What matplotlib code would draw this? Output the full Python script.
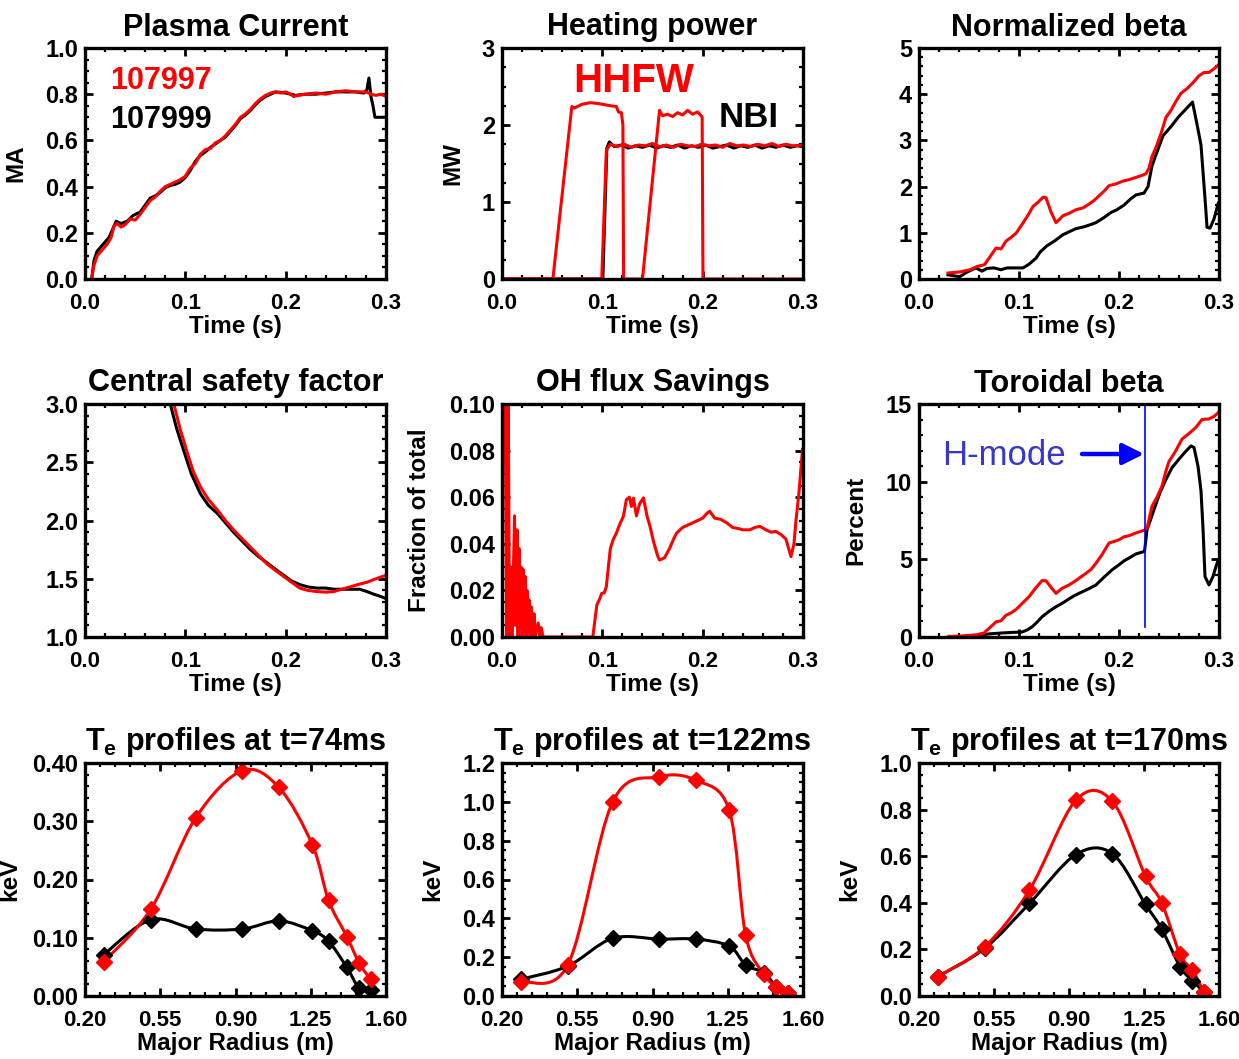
import numpy as np
import matplotlib
matplotlib.use('Agg')
import matplotlib.pyplot as plt
from matplotlib.path import Path
from matplotlib.patches import PathPatch
from matplotlib.ticker import MultipleLocator, FixedLocator, AutoMinorLocator, FormatStrFormatter

plt.rcParams['font.family'] = ['Liberation Sans', 'DejaVu Sans']
plt.rcParams['font.weight'] = 'bold'
plt.rcParams['axes.titleweight'] = 'bold'
plt.rcParams['axes.labelweight'] = 'bold'
plt.rcParams['mathtext.fontset'] = 'custom'
plt.rcParams['mathtext.rm'] = 'Liberation Sans:bold'
plt.rcParams['mathtext.it'] = 'Liberation Sans:bold'
plt.rcParams['mathtext.bf'] = 'Liberation Sans:bold'

RED = '#ff0000'
BLACK = '#000000'

# ---- shots ----
shot_rf = '107997'
shot_ref = '107999'

# ---- plasma current (MA) ----
ip_t_rf = [0.0066, 0.009, 0.012, 0.018, 0.022, 0.026, 0.029, 0.032, 0.036, 0.040, 0.045, 0.050,
           0.055, 0.060, 0.065, 0.070, 0.075, 0.080, 0.085, 0.090, 0.095, 0.100, 0.105, 0.110,
           0.115, 0.120, 0.125, 0.130, 0.135, 0.140, 0.145, 0.150, 0.155, 0.160, 0.165, 0.170,
           0.175, 0.180, 0.185, 0.190, 0.195, 0.200, 0.205, 0.208, 0.212, 0.220, 0.230, 0.240,
           0.250, 0.260, 0.270, 0.280, 0.285, 0.290, 0.295, 0.300]
ip_rf = [0.0, 0.06, 0.10, 0.13, 0.15, 0.18, 0.23, 0.24, 0.225, 0.235, 0.26, 0.255,
         0.28, 0.31, 0.34, 0.355, 0.38, 0.40, 0.41, 0.42, 0.43, 0.445, 0.48, 0.50,
         0.54, 0.56, 0.565, 0.59, 0.60, 0.62, 0.645, 0.67, 0.70, 0.715, 0.735, 0.76,
         0.78, 0.795, 0.805, 0.81, 0.805, 0.81, 0.80, 0.79, 0.795, 0.80, 0.805, 0.80,
         0.81, 0.815, 0.81, 0.81, 0.80, 0.795, 0.80, 0.79]
ip_t_ref = [0.0066, 0.009, 0.012, 0.018, 0.024, 0.028, 0.031, 0.036, 0.042, 0.048, 0.055, 0.060,
            0.065, 0.070, 0.075, 0.080, 0.085, 0.090, 0.095, 0.100, 0.105, 0.110, 0.115, 0.120,
            0.125, 0.130, 0.135, 0.140, 0.145, 0.150, 0.155, 0.160, 0.165, 0.170, 0.175, 0.180,
            0.185, 0.190, 0.200, 0.210, 0.220, 0.230, 0.240, 0.250, 0.260, 0.270, 0.278, 0.281,
            0.283, 0.285, 0.287, 0.289, 0.295, 0.300]
ip_ref = [0.0, 0.08, 0.12, 0.15, 0.18, 0.22, 0.25, 0.24, 0.25, 0.275, 0.29, 0.32,
          0.35, 0.36, 0.375, 0.395, 0.405, 0.41, 0.42, 0.44, 0.47, 0.51, 0.535, 0.55,
          0.57, 0.585, 0.60, 0.615, 0.64, 0.665, 0.695, 0.71, 0.73, 0.755, 0.775, 0.79,
          0.80, 0.81, 0.805, 0.795, 0.80, 0.80, 0.805, 0.81, 0.81, 0.81, 0.805, 0.82,
          0.87, 0.79, 0.75, 0.70, 0.70, 0.70]

# ---- heating power (MW) ----
hhfw_t = [0.0, 0.0507, 0.0696, 0.072, 0.080, 0.088, 0.095, 0.100, 0.108, 0.114, 0.116, 0.119,
          0.1205, 0.1212, 0.1400, 0.157, 0.160, 0.165, 0.170, 0.175, 0.180, 0.185, 0.190,
          0.195, 0.1985, 0.1995, 0.2003, 0.300]
hhfw_p = [0.0, 0.0, 2.24, 2.22, 2.27, 2.29, 2.28, 2.27, 2.25, 2.24, 2.17, 2.16,
          2.0, 0.0, 0.0, 2.19, 2.12, 2.14, 2.11, 2.16, 2.13, 2.19, 2.14,
          2.17, 2.12, 2.10, 0.0, 0.0]
nbi_t_rf = [0.0, 0.0994, 0.104, 0.108, 0.115, 0.122, 0.129, 0.136, 0.143, 0.150, 0.157, 0.164,
            0.171, 0.178, 0.185, 0.192, 0.199, 0.206, 0.213, 0.220, 0.227, 0.234, 0.241, 0.248,
            0.255, 0.262, 0.269, 0.276, 0.283, 0.290, 0.300]
nbi_rf = [0.0, 0.0, 1.67, 1.75, 1.72, 1.75, 1.71, 1.74, 1.73, 1.76, 1.72, 1.74,
          1.71, 1.75, 1.73, 1.72, 1.75, 1.73, 1.74, 1.71, 1.76, 1.73, 1.74, 1.72,
          1.75, 1.73, 1.76, 1.72, 1.75, 1.73, 1.74]
nbi_t_ref = [0.0, 0.1005, 0.1045, 0.107, 0.112, 0.119, 0.126, 0.133, 0.140, 0.147, 0.154, 0.161,
             0.168, 0.175, 0.182, 0.189, 0.196, 0.203, 0.210, 0.217, 0.224, 0.231, 0.238,
             0.245, 0.252, 0.259, 0.266, 0.273, 0.280, 0.287, 0.294, 0.300]
nbi_ref = [0.0, 0.0, 1.70, 1.78, 1.72, 1.74, 1.70, 1.73, 1.71, 1.74, 1.70, 1.73,
           1.71, 1.74, 1.70, 1.73, 1.71, 1.74, 1.70, 1.72, 1.74, 1.70, 1.73,
           1.71, 1.74, 1.70, 1.73, 1.71, 1.74, 1.71, 1.73, 1.72]

# ---- normalized beta ----
bn_t_rf = [0.029, 0.040, 0.051, 0.058, 0.0655, 0.070, 0.077, 0.082, 0.087, 0.092, 0.097, 0.103,
           0.109, 0.114, 0.119, 0.124, 0.127, 0.132, 0.137, 0.140, 0.144, 0.150, 0.157, 0.164,
           0.170, 0.175, 0.180, 0.185, 0.190, 0.197, 0.204, 0.210, 0.217, 0.224, 0.227, 0.230,
           0.233, 0.237, 0.242, 0.247, 0.252, 0.257, 0.262, 0.268, 0.274, 0.280, 0.285, 0.290,
           0.295, 0.2993]
bn_rf = [0.13, 0.15, 0.20, 0.27, 0.31, 0.45, 0.67, 0.65, 0.82, 0.90, 0.99, 1.18,
         1.38, 1.57, 1.66, 1.77, 1.76, 1.45, 1.22, 1.28, 1.37, 1.42, 1.50, 1.54,
         1.62, 1.70, 1.80, 1.90, 2.02, 2.06, 2.12, 2.15, 2.20, 2.25, 2.28, 2.40,
         2.65, 2.85, 3.15, 3.50, 3.65, 3.85, 4.02, 4.12, 4.25, 4.40, 4.47, 4.47,
         4.55, 4.63]
bn_t_ref = [0.029, 0.0406, 0.048, 0.057, 0.063, 0.068, 0.075, 0.082, 0.088, 0.095, 0.104, 0.110,
            0.117, 0.121, 0.128, 0.136, 0.144, 0.150, 0.157, 0.165, 0.172, 0.177, 0.185, 0.192,
            0.198, 0.205, 0.212, 0.217, 0.225, 0.229, 0.233, 0.238, 0.244, 0.252, 0.260, 0.267,
            0.2735, 0.278, 0.282, 0.2865, 0.288, 0.291, 0.295, 0.2993]
bn_ref = [0.09, 0.05, 0.15, 0.24, 0.17, 0.23, 0.24, 0.20, 0.24, 0.24, 0.24, 0.32,
          0.45, 0.58, 0.72, 0.83, 0.96, 1.02, 1.09, 1.13, 1.18, 1.22, 1.33, 1.44,
          1.50, 1.60, 1.74, 1.82, 1.86, 2.00, 2.45, 2.75, 3.10, 3.30, 3.52, 3.68,
          3.83, 3.35, 2.90, 1.60, 1.12, 1.10, 1.30, 1.64]

# ---- central safety factor ----
q0_t_rf = [0.086, 0.0885, 0.095, 0.102, 0.108, 0.115, 0.123, 0.132, 0.140, 0.148, 0.157, 0.165,
           0.173, 0.181, 0.190, 0.198, 0.206, 0.214, 0.222, 0.231, 0.240, 0.248, 0.256, 0.264,
           0.272, 0.281, 0.290, 0.300]
q0_rf = [3.10, 3.00, 2.78, 2.58, 2.42, 2.29, 2.18, 2.09, 2.00, 1.92, 1.84, 1.77,
         1.70, 1.63, 1.57, 1.52, 1.47, 1.42, 1.40, 1.39, 1.385, 1.39, 1.41, 1.43,
         1.45, 1.47, 1.50, 1.53]
q0_t_ref = [0.082, 0.085, 0.091, 0.098, 0.106, 0.115, 0.123, 0.132, 0.140, 0.148, 0.157, 0.165,
            0.173, 0.181, 0.190, 0.198, 0.206, 0.214, 0.222, 0.231, 0.240, 0.248, 0.256, 0.264,
            0.274, 0.281, 0.287, 0.294, 0.300]
q0_ref = [3.10, 3.00, 2.80, 2.61, 2.40, 2.23, 2.13, 2.06, 1.98, 1.90, 1.82, 1.75,
          1.69, 1.64, 1.58, 1.53, 1.48, 1.45, 1.43, 1.42, 1.42, 1.41, 1.41, 1.41,
          1.41, 1.39, 1.37, 1.35, 1.33]

# ---- OH flux savings (fraction of total) ----
oh_t = [0.0, 0.001, 0.003, 0.0045, 0.006, 0.0075, 0.009, 0.010, 0.0125, 0.0135, 0.015, 0.016,
        0.017, 0.018, 0.019, 0.020, 0.021, 0.022, 0.023, 0.024, 0.025, 0.026, 0.027, 0.028,
        0.029, 0.030, 0.032, 0.033, 0.036, 0.038, 0.039, 0.041, 0.0905, 0.0945, 0.097, 0.0994,
        0.102, 0.104, 0.106, 0.108, 0.111, 0.114, 0.117, 0.121, 0.124, 0.127, 0.129, 0.131,
        0.134, 0.137, 0.141, 0.1445, 0.1475, 0.151, 0.155, 0.157, 0.162, 0.167, 0.171, 0.174,
        0.180, 0.185, 0.190, 0.195, 0.200, 0.204, 0.207, 0.212, 0.218, 0.224, 0.230, 0.236,
        0.240, 0.247, 0.252, 0.257, 0.263, 0.268, 0.273, 0.278, 0.283, 0.288, 0.291, 0.293,
        0.296, 0.2995]
oh_frac = [0.037, 0.12, 0.12, 0.0, 0.12, 0.0, 0.03, 0.0, 0.052, 0.005, 0.046, 0.0,
           0.038, 0.004, 0.03, 0.0, 0.029, 0.002, 0.026, 0.0, 0.02, 0.002, 0.016, 0.0,
           0.013, 0.0, 0.01, 0.0, 0.006, 0.0, 0.004, 0.0, 0.0, 0.0137, 0.016, 0.0187,
           0.019, 0.0216, 0.030, 0.038, 0.042, 0.0446, 0.048, 0.0518, 0.059, 0.060, 0.056, 0.0596,
           0.052, 0.057, 0.0597, 0.052, 0.0475, 0.041, 0.035, 0.033, 0.034, 0.038, 0.042, 0.0446,
           0.047, 0.048, 0.049, 0.050, 0.051, 0.053, 0.054, 0.051, 0.0505, 0.049, 0.047, 0.0465,
           0.046, 0.046, 0.047, 0.0475, 0.046, 0.045, 0.0453, 0.044, 0.042, 0.0345, 0.040, 0.050,
           0.062, 0.0806]

# ---- toroidal beta (%) ----
bt_t_rf = [0.030, 0.040, 0.050, 0.058, 0.065, 0.070, 0.077, 0.082, 0.087, 0.092, 0.097, 0.103,
           0.110, 0.116, 0.123, 0.127, 0.132, 0.137, 0.143, 0.150, 0.155, 0.160, 0.167, 0.172,
           0.177, 0.183, 0.190, 0.195, 0.200, 0.205, 0.210, 0.217, 0.225, 0.228, 0.233, 0.238,
           0.243, 0.247, 0.250, 0.256, 0.263, 0.270, 0.277, 0.283, 0.290, 0.295, 0.2993]
bt_rf = [0.04, 0.06, 0.10, 0.15, 0.26, 0.55, 0.97, 1.05, 1.40, 1.55, 1.77, 2.15,
         2.59, 3.10, 3.63, 3.62, 3.20, 2.81, 3.13, 3.35, 3.55, 3.78, 4.10, 4.35,
         4.75, 5.30, 6.05, 6.15, 6.26, 6.45, 6.52, 6.70, 6.87, 7.00, 8.42, 9.00,
         9.72, 10.7, 11.3, 11.9, 12.74, 13.1, 13.5, 14.0, 14.04, 14.2, 14.45]
bt_t_ref = [0.030, 0.050, 0.060, 0.070, 0.083, 0.095, 0.103, 0.108, 0.113, 0.118, 0.123, 0.130,
            0.137, 0.143, 0.150, 0.155, 0.160, 0.168, 0.177, 0.185, 0.193, 0.200, 0.205, 0.210,
            0.217, 0.2255, 0.228, 0.235, 0.241, 0.247, 0.253, 0.260, 0.266, 0.272, 0.275, 0.279,
            0.282, 0.284, 0.286, 0.290, 0.294, 0.297, 0.2993]
bt_ref = [0.0, 0.02, 0.10, 0.20, 0.26, 0.30, 0.32, 0.45, 0.65, 0.95, 1.30, 1.65,
          1.95, 2.16, 2.45, 2.65, 2.81, 3.05, 3.35, 3.85, 4.32, 4.65, 4.90, 5.08,
          5.35, 5.51, 6.90, 8.20, 9.30, 10.15, 10.9, 11.45, 11.9, 12.3, 12.2, 11.0,
          9.4, 7.0, 3.89, 3.35, 3.90, 4.54, 4.97]
hmode_t = 0.226

# ---- Te profiles (keV) vs major radius (m) ----
radius = [0.287, 0.506, 0.715, 0.932, 1.102, 1.257, 1.333, 1.418, 1.476, 1.528]
te_74_rf = [0.059, 0.149, 0.306, 0.387, 0.358, 0.260, 0.164, 0.102, 0.056, 0.029]
te_74_ref = [0.071, 0.131, 0.115, 0.115, 0.129, 0.112, 0.094, 0.049, 0.013, 0.010]
te_122_rf = [0.074, 0.160, 1.000, 1.129, 1.111, 0.957, 0.314, 0.113, 0.048, 0.017]
te_122_ref = [0.086, 0.154, 0.297, 0.293, 0.293, 0.257, 0.160, 0.120, 0.048, 0.014]
te_170_rf = [0.083, 0.211, 0.454, 0.840, 0.836, 0.514, 0.400, 0.179, 0.111, 0.019]
te_170_ref = [0.083, 0.204, 0.397, 0.607, 0.611, 0.393, 0.287, 0.126, 0.066, 0.019]
radius_ticks = [0.20, 0.55, 0.90, 1.25, 1.60]

W, H = 1239, 1059
fig = plt.figure(figsize=(W / 100, H / 100), dpi=100)


def make_axes(x0, y0, x1, y1):
    # pixel box -> figure fraction
    return fig.add_axes([x0 / W, 1 - y1 / H, (x1 - x0) / W, (y1 - y0) / H])


def style(ax, title, xlim, ylim, xmaj, ymaj, ymin, xfmt, yfmt, xlabel, ylabel=None, ylab_x=-0.2):
    ax.set_xlim(*xlim)
    ax.set_ylim(*ylim)
    if isinstance(xmaj, list):
        ax.xaxis.set_major_locator(FixedLocator(xmaj))
    else:
        ax.xaxis.set_major_locator(MultipleLocator(xmaj))
    ax.xaxis.set_minor_locator(AutoMinorLocator(5))
    ax.yaxis.set_major_locator(MultipleLocator(ymaj))
    ax.yaxis.set_minor_locator(MultipleLocator(ymin))
    ax.xaxis.set_major_formatter(FormatStrFormatter(xfmt))
    ax.yaxis.set_major_formatter(FormatStrFormatter(yfmt))
    ax.tick_params(which='both', direction='in', top=True, right=True)
    ax.tick_params(which='major', length=6, width=2)
    ax.tick_params(which='minor', length=3, width=1.6)
    ax.tick_params(axis='x', labelsize=16, pad=10)
    ax.tick_params(axis='y', labelsize=17, pad=5)
    for s in ax.spines.values():
        s.set_linewidth(2.4)
    ax.set_title(title, fontsize=22, pad=9)
    ax.set_xlabel(xlabel, fontsize=17.5, labelpad=1)
    if ylabel:
        ax.set_ylabel(ylabel, fontsize=17.5)
        ax.yaxis.set_label_coords(ylab_x, 0.5)


def smooth_line(ax, x, y, color, lw=2.2):
    # Catmull-Rom spline through the points, drawn as cubic Bezier segments
    pts = np.column_stack([x, y])
    ext = np.vstack([pts[0], pts, pts[-1]])
    verts = [pts[0]]
    codes = [Path.MOVETO]
    for i in range(len(pts) - 1):
        p0, p1, p2, p3 = ext[i], ext[i + 1], ext[i + 2], ext[i + 3]
        verts += [p1 + (p2 - p0) / 6, p2 - (p3 - p1) / 6, p2]
        codes += [Path.CURVE4] * 3
    ax.add_patch(PathPatch(Path(verts, codes), facecolor='none', edgecolor=color, lw=lw))


cols = [(85, 386), (502, 803), (919, 1219)]
rows = [(48, 279), (404, 637), (763, 996)]
tlab = 'Time (s)'

# Plasma current
ax = make_axes(cols[0][0], rows[0][0], cols[0][1], rows[0][1])
ax.plot(ip_t_ref, ip_ref, color=BLACK, lw=2.2)
ax.plot(ip_t_rf, ip_rf, color=RED, lw=2.2)
style(ax, 'Plasma Current', (0, 0.3), (0, 1.0), 0.1, 0.2, 0.05, '%.1f', '%.1f', tlab, 'MA', -0.19)
ax.text(0.083, 0.857, shot_rf, color=RED, fontsize=22, transform=ax.transAxes, va='center')
ax.text(0.083, 0.688, shot_ref, color=BLACK, fontsize=22, transform=ax.transAxes, va='center')

# Heating power
ax = make_axes(cols[1][0], rows[0][0], cols[1][1], rows[0][1])
ax.plot(nbi_t_ref, nbi_ref, color=BLACK, lw=2.2)
ax.plot(nbi_t_rf, nbi_rf, color=RED, lw=2.2)
ax.plot(hhfw_t, hhfw_p, color=RED, lw=2.2)
style(ax, 'Heating power', (0, 0.3), (0, 3), 0.1, 1, 0.25, '%.1f', '%d', tlab, 'MW', -0.125)
ax.text(0.236, 0.857, 'HHFW', color=RED, fontsize=29, transform=ax.transAxes, va='center')
ax.text(0.721, 0.70, 'NBI', color=BLACK, fontsize=25, transform=ax.transAxes, va='center')

# Normalized beta
ax = make_axes(cols[2][0], rows[0][0], cols[2][1], rows[0][1])
ax.plot(bn_t_ref, bn_ref, color=BLACK, lw=2.2)
ax.plot(bn_t_rf, bn_rf, color=RED, lw=2.2)
style(ax, 'Normalized beta', (0, 0.3), (0, 5), 0.1, 1, 0.2, '%.1f', '%d', tlab)

# Central safety factor
ax = make_axes(cols[0][0], rows[1][0], cols[0][1], rows[1][1])
ax.plot(q0_t_ref, q0_ref, color=BLACK, lw=2.2)
ax.plot(q0_t_rf, q0_rf, color=RED, lw=2.2)
style(ax, 'Central safety factor', (0, 0.3), (1.0, 3.0), 0.1, 0.5, 0.1, '%.1f', '%.1f', tlab)

# OH flux savings
ax = make_axes(cols[1][0], rows[1][0], cols[1][1], rows[1][1])
ax.plot(oh_t, oh_frac, color=RED, lw=2.2)
style(ax, 'OH flux Savings', (0, 0.3), (0, 0.10), 0.1, 0.02, 0.005, '%.1f', '%.2f', tlab,
      'Fraction of total', -0.235)

# Toroidal beta
ax = make_axes(cols[2][0], rows[1][0], cols[2][1], rows[1][1])
ax.plot(bt_t_ref, bt_ref, color=BLACK, lw=2.2)
ax.plot(bt_t_rf, bt_rf, color=RED, lw=2.2)
ax.plot([hmode_t, hmode_t], [0.65, 15], color='#0000ff', lw=1.2)
ax.annotate('', xy=(hmode_t - 0.001, 11.78), xytext=(0.163, 11.78),
            arrowprops=dict(arrowstyle='-|>', color='#0000ff', lw=3.2, mutation_scale=32,
                            shrinkA=0, shrinkB=0))
ax.text(0.023, 11.7, 'H-mode', color='#3737cc', fontsize=25, fontweight='normal', va='center')
style(ax, 'Toroidal beta', (0, 0.3), (0, 15), 0.1, 5, 1, '%.1f', '%d', tlab, 'Percent', -0.173)

# Te profiles
profiles = [('74', te_74_rf, te_74_ref, 0.40, 0.10, 0.02, '%.2f', -0.212),
            ('122', te_122_rf, te_122_ref, 1.2, 0.2, 0.05, '%.1f', -0.193),
            ('170', te_170_rf, te_170_ref, 1.0, 0.2, 0.05, '%.1f', -0.193)]
for (x0, x1), (ms, rf, ref, ytop, ymaj, ymin, yfmt, ylx) in zip(cols, profiles):
    ax = make_axes(x0, rows[2][0], x1, rows[2][1])
    smooth_line(ax, radius, ref, BLACK)
    ax.plot(radius, ref, 'D', color=BLACK, ms=8.5)
    smooth_line(ax, radius, rf, RED)
    ax.plot(radius, rf, 'D', color=RED, ms=8.5)
    style(ax, r'T$_{\rm e}$ profiles at t=' + ms + 'ms', (0.2, 1.6), (0, ytop), radius_ticks,
          ymaj, ymin, '%.2f', yfmt, 'Major Radius (m)', 'keV', ylx)

fig.savefig('out.png', dpi=100)
